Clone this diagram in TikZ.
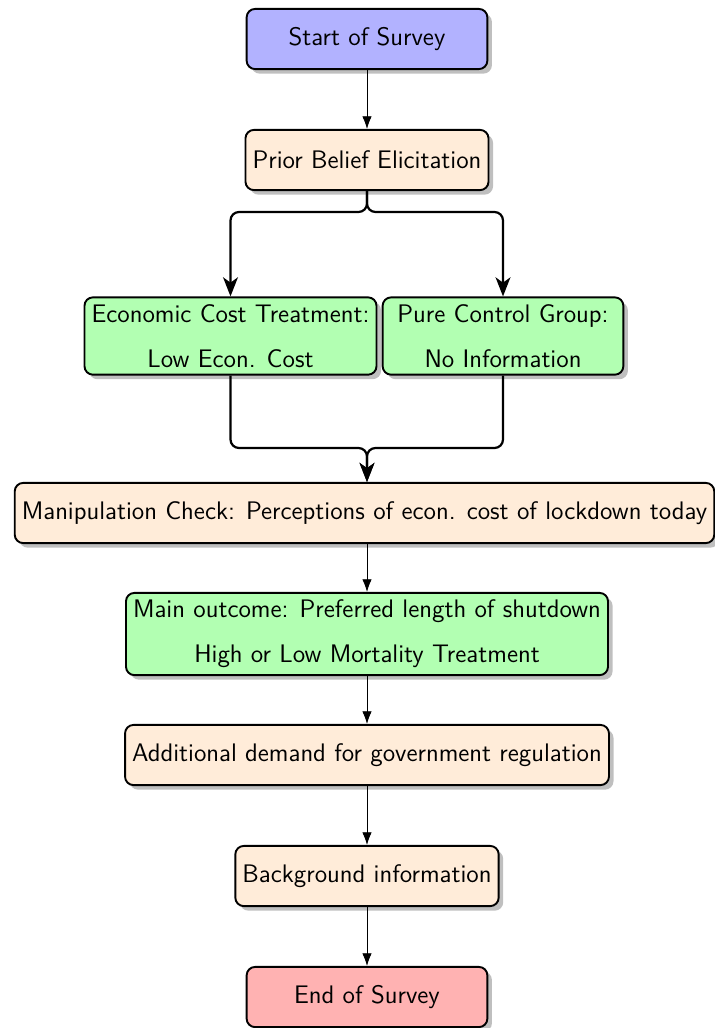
\documentclass[tikz,border=0pt]{standalone}
\usetikzlibrary{shadows,arrows.meta,calc}
\begin{document}
\begin{tikzpicture}[x=0.4728pt,y=-0.4728pt,
  base/.style={rectangle, rounded corners=4pt, minimum width=4cm, minimum height=1cm,
    draw=black, line width=0.9pt, drop shadow, align=center,
    font=\sffamily\fontsize{12}{14.5}\selectfont},
  startnode/.style={base, fill=blue!30},
  endnode/.style={base, fill=red!30},
  process/.style={base, fill=orange!15},
  treat/.style={base, fill=green!30},
  arrow/.style={thin, -{Latex[length=6pt,width=4.5pt]}},
  branch/.style={line width=1.05pt, rounded corners=4pt, -{Stealth[length=9pt,width=7pt,inset=2.5pt]}}
]
\useasboundingbox (0,0) rectangle (715,1028);

\node[startnode] (start) at (367,39) {Start of Survey};
\node[process] (prior) at (367,160) {Prior Belief Elicitation};
\node[treat] (econ) at (230.5,336) {Economic Cost Treatment:\\[6.8pt]Low Econ. Cost};
\node[treat] (pure) at (503,336) {Pure Control Group:\\[6.8pt]No Information};
\node[process] (manip) at (364.5,513) {Manipulation Check: Perceptions of econ. cost of lockdown today};
\node[treat] (main) at (367,634) {Main outcome: Preferred length of shutdown\\[6.8pt]High or Low Mortality Treatment};
\node[process] (add) at (367,755) {Additional demand for government regulation};
\node[process] (back) at (367,876) {Background information};
\node[endnode] (end) at (367,997) {End of Survey};

\coordinate (s) at (367,212);
\coordinate (m) at (367,448);

\draw[arrow] (start) -- (prior);
\draw[branch] (prior.south) -- (s) -| (econ.north);
\draw[branch] (prior.south) -- (s) -| (pure.north);
\draw[branch] (econ.south) |- (m) -- (m |- manip.north);
\draw[branch] (pure.south) |- (m) -- (m |- manip.north);
\draw[arrow] (m |- manip.south) -- (main.north);
\draw[arrow] (main) -- (add);
\draw[arrow] (add) -- (back);
\draw[arrow] (back) -- (end);
\end{tikzpicture}
\end{document}
